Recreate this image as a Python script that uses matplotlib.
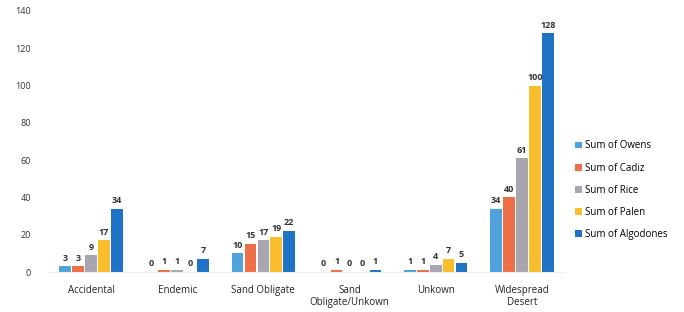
import matplotlib
matplotlib.use("Agg")
import matplotlib.pyplot as plt
import numpy as np

categories = ["Accidental", "Endemic", "Sand Obligate", "Sand\nObligate/Unkown", "Unkown", "Widespread\nDesert"]
series_names = ["Sum of Owens", "Sum of Cadiz", "Sum of Rice", "Sum of Palen", "Sum of Algodones"]
owens = [3, 0, 10, 0, 1, 34]
cadiz = [3, 1, 15, 1, 1, 40]
rice = [9, 1, 17, 0, 4, 61]
palen = [17, 0, 19, 0, 7, 100]
algodones = [34, 7, 22, 1, 5, 128]
colors = ["#4fa2db", "#ec6f47", "#a9a5b0", "#f9be2e", "#1f72c4"]

plt.rcParams["font.family"] = ["Open Sans", "DejaVu Sans"]

fig = plt.figure(figsize=(6.84, 3.12), dpi=100)
ax = fig.add_axes([0.07, 0.128, 0.756, 0.837])

x = np.arange(len(categories))
width = 0.135
step = 0.15
all_series = [owens, cadiz, rice, palen, algodones]
for i, (vals, name, c) in enumerate(zip(all_series, series_names, colors)):
    pos = x + (i - 2) * step
    ax.bar(pos, vals, width, color=c, label=name)
    for xp, v in zip(pos, vals):
        ax.text(xp, v + 2, str(v), ha="center", va="bottom", fontsize=6.5,
                fontweight="bold", color="#333333")

ax.set_ylim(0, 140)
ax.set_xlim(-0.5, len(categories) - 0.5)
ax.set_yticks(range(0, 141, 20))
ax.set_xticks(x)
ax.set_xticklabels(categories, fontsize=7, color="#222222")
ax.tick_params(axis="y", labelsize=6.5, colors="#333333", length=0, pad=12)
ax.tick_params(axis="x", length=0, pad=9)
for s in ["top", "right", "left"]:
    ax.spines[s].set_visible(False)
ax.spines["bottom"].set_color("#eeeeee")

fig.legend(loc="center left", bbox_to_anchor=(0.828, 0.39), frameon=False,
           fontsize=7, handlelength=0.7, handleheight=0.7, labelspacing=1.15,
           handletextpad=0.3)

fig.savefig("out.png", dpi=100)
